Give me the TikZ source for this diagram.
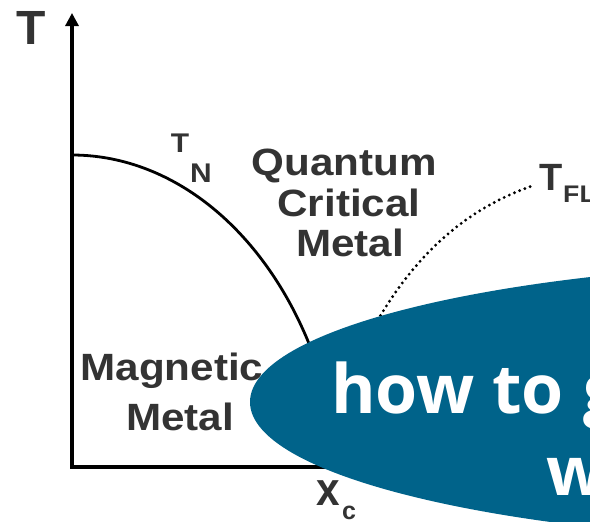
\documentclass[tikz,border=0pt]{standalone}
\usepackage{fontspec}
\setmainfont{Liberation Sans}
\newfontfamily\bigfont{Open Sans}
\usetikzlibrary{arrows.meta}
\definecolor{ellblue}{RGB}{0,99,138}
\definecolor{labgray}{RGB}{51,51,51}
\tikzset{
  lab/.style={inner sep=0pt, text=labgray, font=\bfseries, anchor=base},
  wide/.style={xscale=1.11},
  axisline/.style={line width=3.1pt, black},
  phaseline/.style={line width=2.8pt, black},
  dotline/.style={line width=3.2pt, black, line cap=round, dash pattern=on 0pt off 5.6pt},
  caption/.style={inner sep=0pt, text=white, anchor=base west, font=\bigfont\bfseries\fontsize{68}{80}\selectfont}
}
\begin{document}
\begin{tikzpicture}[x=1pt,y=-1pt]
\clip (0,0) rectangle (590,522);
\fill[white] (0,0) rectangle (590,522);
% axes
\coordinate (top) at (72,13);
\coordinate (origin) at (72,467);
\coordinate (xend) at (350,467);
\draw[axisline, {Triangle[width=13pt,length=13pt]}-] (top) -- (origin) -- (xend);
% T_N boundary
\draw[phaseline] plot[domain=90:7.9, samples=80, smooth] ({72+270*cos(\x)}, {517-362*sin(\x)});
% T_FL crossover
\coordinate (fls) at (372,330);
\coordinate (fle) at (535,185);
\draw[dotline] (fls) .. controls (410,262) and (460,210) .. (fle);
% labels
\node[lab, font=\bfseries\fontsize{48}{50}\selectfont] (Tax) at (31,45) {T};
\node[lab, wide, font=\bfseries\fontsize{27}{30}\selectfont] (TN1) at (180,152) {T};
\node[lab, wide, font=\bfseries\fontsize{27}{30}\selectfont] (TN2) at (201,182) {N};
\node[lab, wide, font=\bfseries\fontsize{38}{40}\selectfont] (q1) at (344,175) {Quantum};
\node[lab, wide, font=\bfseries\fontsize{38}{40}\selectfont] (q2) at (349,216.7) {Critical};
\node[lab, wide, font=\bfseries\fontsize{38}{40}\selectfont] (q3) at (350,256.7) {Metal};
\node[lab, wide, font=\bfseries\fontsize{38}{40}\selectfont] (m1) at (172,380) {Magnetic};
\node[lab, wide, font=\bfseries\fontsize{38}{40}\selectfont] (m2) at (180,430) {Metal};
\node[lab, font=\bfseries\fontsize{38}{40}\selectfont] (TFL1) at (551,190) {T};
\node[lab, anchor=base west, wide, font=\bfseries\fontsize{24}{26}\selectfont] (TFL2) at (563,202) {FL};
\node[lab, xscale=0.9, font=\bfseries\fontsize{47}{50}\selectfont] (xc1) at (328.5,505) {x};
\node[lab, anchor=base west, font=\bfseries\fontsize{25}{27}\selectfont] (xc2) at (342,519) {c};
% overlay ellipse
\fill[ellblue] (870,402) ellipse [x radius=620, y radius=140];
\node[caption] (cap1) at (331,413) {how to\hspace{2pt} g};
\node[caption] (cap2) at (546,495) {w};
\end{tikzpicture}
\end{document}
